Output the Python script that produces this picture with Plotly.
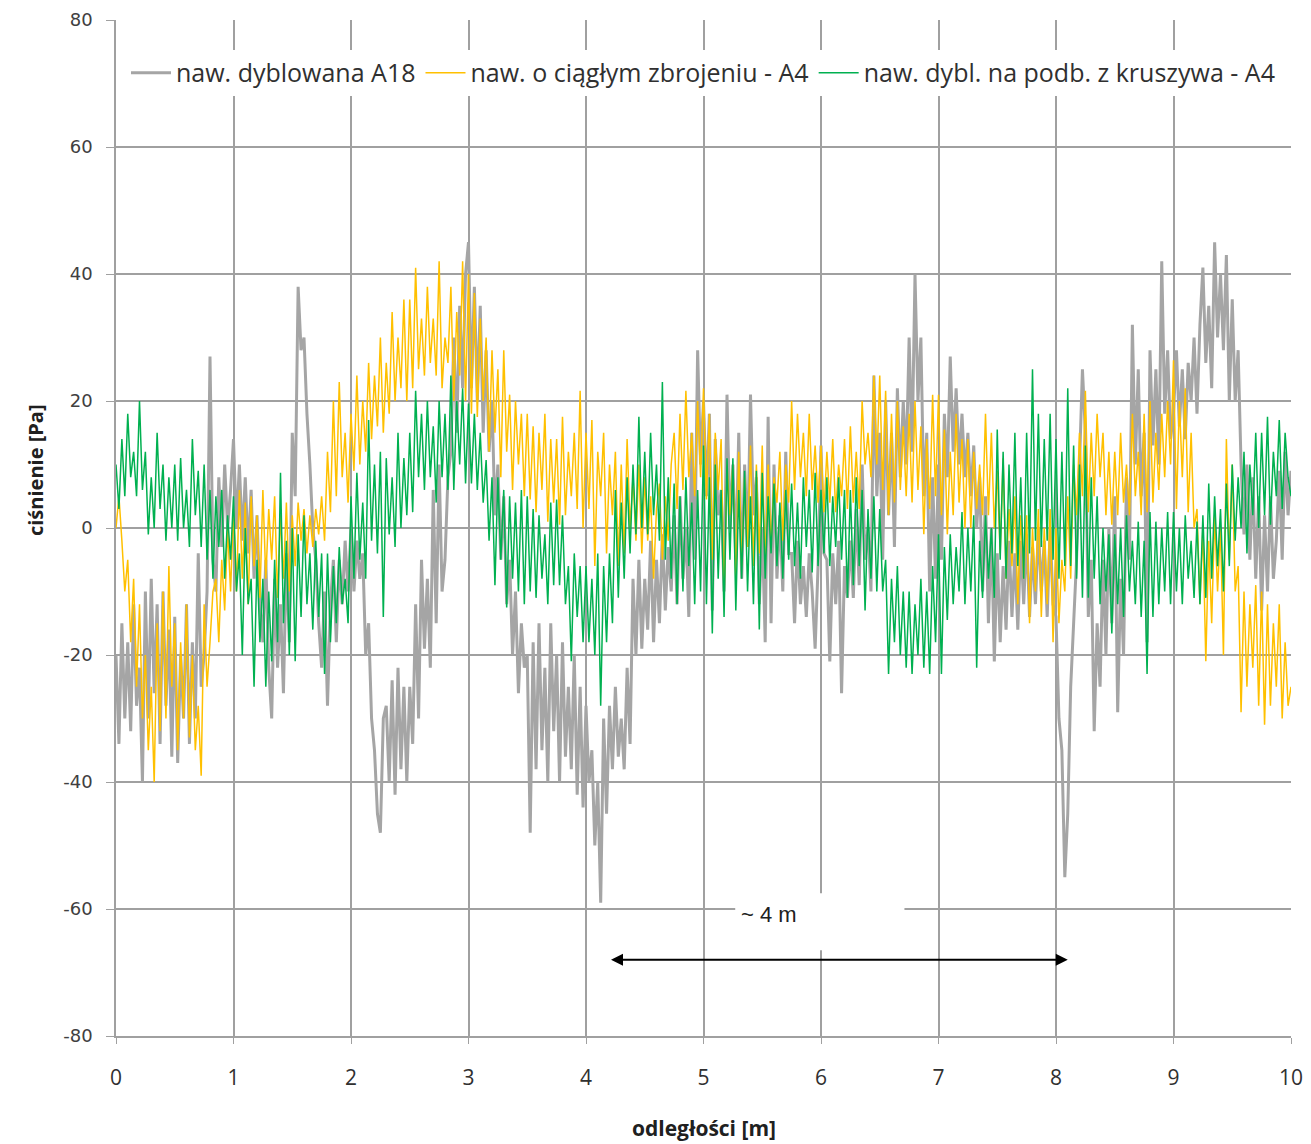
import plotly.graph_objects as go

X_STEP = 0.025  # m, sampling step of the series below (x = 0 .. 10)

names = ["naw. dyblowana A18", "naw. o ciągłym zbrojeniu - A4", "naw. dybl. na podb. z kruszywa - A4"]

y_ticks = [-80, -60, -40, -20, 0, 20, 40, 60, 80]
y_tick_text = ["-80", "-60", "-40", "-20", "0", "20", "40", "60", "80"]
x_ticks = [0, 1, 2, 3, 4, 5, 6, 7, 8, 9, 10]

# one row = 0.25 m (10 samples)
gray_vals = [
    -20, -34, -15, -30, -18, -32, -12, -28, -22, -40,
    -10, -30, -8, -26, -12, -34, -10, -28, -16, -36,
    -14, -37, -20, -30, -12, -34, -18, -30, -4, -25,
    -20, -10, 27, -5, -10, 8, -3, 10, 0, 6,
    14, 0, 10, -2, 8, -4, 6, -8, 2, -12,
    -18, -5, -22, -30, -8, -22, -12, -26, -4, -18,
    15, 5, 38, 28, 30, 18, 10, 0, -5, -15,
    -22, -10, -28, -12, -5, -18, -5, -12, -2, -10,
    0, -10, -2, -8, -4, -20, -15, -30, -35, -45,
    -48, -30, -28, -40, -24, -42, -22, -38, -25, -40,
    -25, -34, -12, -30, -5, -19, -8, -22, 6, -15,
    10, -10, -5, 8, 12, 30, 15, 35, 22, 40,
    45, 22, 38, 20, 35, 15, 28, 12, 20, 2,
    10, -5, 5, -12, -5, -20, -10, -26, -15, -22,
    -20, -48, -18, -38, -15, -35, -22, -40, -15, -32,
    -20, -40, -18, -36, -25, -38, -20, -42, -25, -44,
    -28, -40, -35, -50, -40, -59, -30, -45, -28, -38,
    -25, -36, -30, -38, -22, -34, -8, -20, -5, -19,
    -8, -16, -2, -18, -5, -15, -1, -13, -3, -10,
    2, -12, 5, -8, 0, -14, 15, -5, 28, 10,
    20, 5, 18, -13, 14, 2, 6, -10, 21, 0,
    10, -5, 15, -8, 10, -3, 21, 2, 8, -12,
    0, -18, 17.5, -15, 10, -8, 2, -10, 12, -4,
    -4, -15, -2, -12, -6, -14, -4, -10, -19, -6,
    13, -4, -5, -21, -4, -12, -2, -26, -6, -11,
    -2, -11, 3, -9, 10, -5, 0, -10, 24, 5,
    15, -5, 20, 2, 15, -3, 22, 8, 20, 10,
    30, 12, 40, 20, 30, 5, 15, -10, 8, -8,
    10, -5, 18, 8, 27, 12, 22, 10, 18, 8,
    15, 5, 13, 0, 8, -10, 5, -15, 0, -21,
    -4, -18, -6, -16, -2, -14, -4, -16, -2, -12,
    -1, -14, -3, -12, 0, -10, -2, -14, 0, -12,
    -14, -30, -35, -55, -45, -25, -15, -5, 10, 25,
    15, -14, -5, -32, -15, -25, -5, -20, 0, -15,
    5, -29, -8, -20, 8, -5, 32, 10, 25, 5,
    15, -18, 28, 13, 25, 10, 42, 18, 28, 14,
    18, 28, 16, 25, 14, 26, 20, 30, 18, 32,
    41, 26, 35, 22, 45, 30, 40, 28, 43, 20,
    36, 20, 28, 10, -1, 10, -5, 8, -8, 5,
    -13, 2, -10, 5, -8, -2, 9, -5, 12, 2,
    9,
]

yellow_vals = [
    0, 5, -2, -10, -5, -18, -8, -25, -12, -30,
    -20, -35, -25, -40, -15, -32, -10, -30, -6, -25,
    -15, -35, -18, -30, -12, -33, -20, -35, -28, -39,
    -12, -25, -18, -10, -8, -18, -5, -13, 0, -10,
    3, -10, 6, -8, 4, -12, 5, -6, 2, -11,
    6, -8, 3, -5, 5, -11, 2, -8, 4, -10,
    2, -6, 4, -2, 3, -4, 2, -3, 3, -1,
    5, -2, 12, 2.5, 20, 5, 23, 8, 15, 4,
    18, 9, 24, 10, 20, 12, 26, 14, 24, 16,
    30, 15, 26, 18, 34, 20, 30, 22, 36, 20,
    36, 22, 41, 25, 33, 24, 38, 26, 33, 24,
    42, 22, 30, 26, 38, 20, 34, 24, 42, 20,
    40, 18, 37, 17.5, 33, 20, 30, 12, 28, 15,
    25, 8, 28, 12, 21, 6, 20, 10, 18, 5,
    18, 4.5, 16, 2.5, 15, 6, 18, 1, 14, 4,
    14, 0.5, 17.5, 2, 12, 5, 15, 3, 21.6, 0,
    15, 3, 17, -6, 12, 5, 15, -4, 10, 2,
    12, -6, 10, -4, 14, 0, 8, -2, 10, -4,
    8, -2, 5, -8, 3, 7, -5, 5, -2, 10,
    15, 3, 18, 6, 21.6, 8, 15, 5, 20, 8,
    22, 4.5, 18, -5, 15, 6, 14, -11, 10, 2,
    10, -8, 12, -6, 8, -3, 13, -6, 10, -4,
    13, -6, 10, -3, 8, 4, 12, -2, 10, 4,
    20, 6, 18, 8, 15, 5, 18, 6, 13, 4,
    13, 2.5, 12, 4, 14, 2.5, 10, 5, 14, 3,
    16, 4, 12, 3, 20, 10, 15, 8, 24, 10,
    24, 6, 21.6, 2, 18, 4, 20, 6, 16, 5,
    18, 4, 20, 6, 16, -1, 14, 3, 21, 5,
    21, 2, 15.5, -1, 12, 2, 18, 4, 14, 0,
    14, 0, 12, 3, 10, 2, 18, 2, 15, 0,
    9, -4, 11, -8, 3, -6, 5, -12, 2, -8,
    2, -15, 0, -10, 3, -14, 0, -12, 3, -18,
    0, -15, -5, -10, 5, -8, 10, 2, 15, 5,
    21.6, 2.5, 15, 5, 18, 8, 15, 2, 12, 0.5,
    12, 2, 15, 4, 10, 2, 18, 5, 12, 2,
    18, 2.5, 20, 4, 15, 6, 18, 8, 20, 10,
    26.4, 3, 20, 8, 22, 2.5, 15, 0, 3, -12,
    0, -21, -2, -15, 2, -10, 0, -20, 14, -5,
    10, -10, -6, -29, -10, -25, -12, -22, -9, -28,
    -10, -31, -12, -28, -15, -25, -12, -30, -18, -28,
    -25,
]

green_vals = [
    10, 3, 14, 5, 18, 8, 12, 5, 20, 6,
    12, -1, 8, 0, 15, 3, 10, -2, 8, 0,
    10, -2, 11, 0, 6, -3, 14, 2, 9, -3,
    10, -5, 6, -8, 5, -3, 6, -8, 2, -5,
    5, -10, -4, -20, 0, -12, -8, -25, -5, -18,
    -8, -25, -10, -21, -5, -18, 8.7, -15, -2, -20,
    0, -21, -1, -14, 2, -12, -4, -16, -2, -14,
    -4, -23, -4, -18, -6, -15, -3, -12, -8, -15,
    5, -8, 8.7, -5, 4, -8, 17, -2, 10, -4,
    12, -14, 11, -1, 8, -3, 15, 0, 11, 2,
    15, 2.5, 21.6, 8, 18, 6, 20, 8, 16, 4,
    20, 8, 18, 6, 24, 6, 20, 10, 22, 7,
    19.6, 7, 18, 6, 15, 4, 10.7, -2, 8, -9,
    8, -5, 6, -12.5, 5, -8, 4, -10, 6, -12,
    5, -10, 3, -11, 2, -8, -1, -12, 4, -9,
    4.5, -9, 2, -12, -6, -21, -4, -14, -6, -18,
    -6, -18, -8, -20, -4, -28, -6, -18, -4, -15,
    6, -11, 4, -8, 8, -4, 10, -1, 17.5, 0,
    12, -1, 15, 2, 10, -2, 23, -5, 8, -8,
    7, -12, 5, -10, 8, -6, 4, -12, 6, -10,
    13, -12, 8, -16.6, 10, -8, 6, -14, 11, -5,
    11, -13, 6, -8, 9, -10, 5, -12, 9, -16,
    8.7, -8, 5, -4, 7, -6, 4, -8, 6, -5,
    7, -6, 4, -8, 8, -3, 6, -7, 8.7, -6,
    6, -4, 8, -6, 5, -3, 8, -5, 6, -11,
    6, -9, 8, -6, 6, -13, 3, -8, 5, -10,
    3, -10, -5, -23, -8, -18, -6, -20, -10, -22,
    -10, -23, -12, -20, -8, -22, -10, -23, -6, -18,
    -1, -23, -3, -14.5, -1, -12, -3, -10, 2.5, -12,
    0, -10, 2, -22, -2, -11, 2, -8, 0, -11,
    15.5, -5, 12, -8, 10, -4, 15, -6, 8, -8,
    15, -4, 25, -2, 18, -3, 14, -2, 18, -5,
    14, -8, 12, -6, 22, -6, 13, -8, 10, -11,
    13, -11, 8, -8, 5, -12, 0, -10, -1, -16.6,
    -1, -12, 0, -14, 2, -10, -2, -12, 1, -14,
    -2, -23, 2.5, -14, 1, -12, 0, -10, 2.5, -12,
    2.5, -10, 0, -12, 2, -8, -2, -11, 1, -12,
    2, -11, 7, -8, 5, -6, 3, -10, 7, -6,
    10, -2, 8, 0, 12, -4, 10, 2, 15, 0,
    15, 2, 17.5, 0.5, 12, 5, 17, 3, 15, 8,
    5,
]

colors = ["#A5A5A5", "#FFC000", "#00B050"]
widths = [3.0, 1.5, 1.5]
series = [gray_vals, yellow_vals, green_vals]

fig = go.Figure()
for name, vals, c, w in zip(names, series, colors, widths):
    xs = [round(i * X_STEP, 4) for i in range(len(vals))]
    fig.add_trace(go.Scatter(x=xs, y=vals, mode="lines", name=name,
                             line=dict(color=c, width=w)))

grid_c = "#A0A0A0"
txt_font = "Open Sans, Noto Sans"
fig.update_layout(
    width=1303, height=1136,
    margin=dict(l=108, r=20, t=12, b=108, autoexpand=False),
    plot_bgcolor="white", paper_bgcolor="white",
    showlegend=True,
    legend=dict(orientation="h", x=0.0085, y=0.9705, xanchor="left", yanchor="top",
                bgcolor="white", font=dict(family=txt_font, size=25, color="#303030"),
                itemwidth=40, tracegroupgap=0),
    xaxis=dict(range=[0, 10], tickvals=x_ticks, showgrid=True, gridcolor=grid_c, gridwidth=1.5,
               showline=True, linecolor=grid_c, linewidth=1.5, ticks="outside", ticklen=6, tickcolor=grid_c,
               zeroline=False, automargin=False, ticklabelstandoff=16,
               tickfont=dict(family=txt_font, size=21, color="#303030")),
    yaxis=dict(range=[-80, 80], tickvals=y_ticks, ticktext=y_tick_text, showgrid=True, gridcolor=grid_c,
               gridwidth=1.5, showline=True, linecolor=grid_c, linewidth=1.5, ticks="outside", ticklen=8,
               tickcolor=grid_c, zeroline=False, automargin=False, ticklabelstandoff=10,
               tickfont=dict(family="DejaVu Sans", size=18, color="#404040")),
)

# axis titles
fig.add_annotation(x=0.5, y=-0.0906, xref="paper", yref="paper", text="<b>odległości [m]</b>",
                   showarrow=False, xanchor="center", yanchor="middle",
                   font=dict(family=txt_font, size=21, color="#202020"))
fig.add_annotation(x=-0.069, y=0.557, xref="paper", yref="paper", text="<b>ciśnienie [Pa]</b>",
                   showarrow=False, textangle=-90, xanchor="center", yanchor="middle",
                   font=dict(family=txt_font, size=20, color="#202020"))

# white label box and text
fig.add_shape(type="rect", xref="x", yref="y", x0=5.27, x1=6.71, y0=-66.5, y1=-57.5,
              fillcolor="white", line=dict(width=0), layer="above")
fig.add_annotation(x=5.3, y=-60.8, xref="x", yref="y", text="~ 4 m", showarrow=False,
                   xanchor="left", yanchor="middle", font=dict(family="Liberation Sans, Arial", size=22, color="#202020"))
# double-headed arrow
fig.add_annotation(x=8.1, y=-68, ax=4.2, ay=-68, xref="x", yref="y", axref="x", ayref="y",
                   text="", showarrow=True, arrowhead=2, arrowside="end+start", arrowwidth=2,
                   arrowsize=1.2, arrowcolor="black")

fig.write_html("out.html")
